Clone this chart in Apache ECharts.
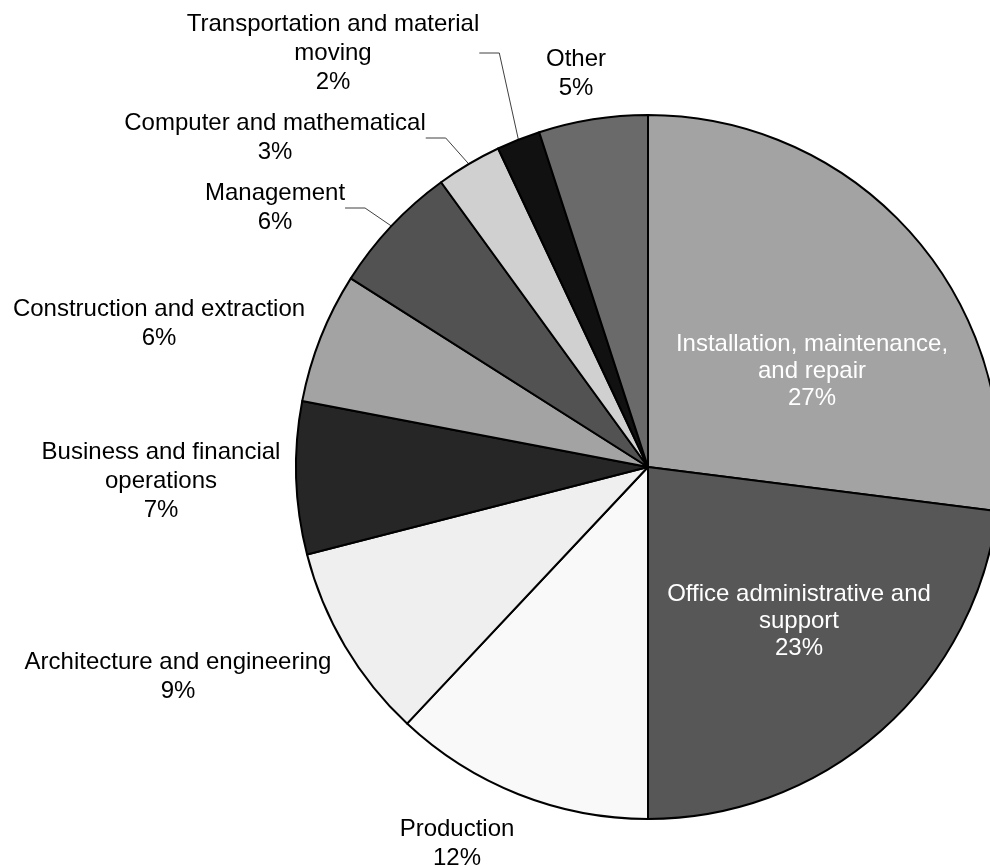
<!DOCTYPE html>
<html>
<head>
<meta charset="utf-8">
<title>Occupations</title>
<script src="https://cdn.jsdelivr.net/npm/echarts@6/dist/echarts.min.js"></script>
<style>
  html, body { margin: 0; padding: 0; background: #fff; }
  #chart { width: 990px; height: 867px; }
</style>
</head>
<body>
<div id="chart"></div>
<script>
const categories = [
  'Installation, maintenance,\nand repair',
  'Office administrative and\nsupport',
  'Production',
  'Architecture and engineering',
  'Business and financial\noperations',
  'Construction and extraction',
  'Management',
  'Computer and mathematical',
  'Transportation and material\nmoving',
  'Other'
]
const shares = [27, 23, 12, 9, 7, 6, 6, 3, 2, 5]

// slice fills, same order as categories
const fills = ['#a3a3a3', '#575757', '#f9f9f9', '#efefef', '#262626',
  '#a3a3a3', '#525252', '#d0d0d0', '#111111', '#6a6a6a']
// where each label block sits (centre)
const labelSpots = [
  [812, 371], [799, 621], [457, 844], [178, 677], [161, 481],
  [159, 324], [275, 208], [275, 138], [333, 53], [576, 74]
]
const insideIdx = [0, 1]
const guideIdx = [6, 7, 8]

const chart = echarts.init(document.getElementById('chart'), null, { renderer: 'canvas' })

chart.setOption({
  animation: false,
  backgroundColor: '#fff',
  series: [{
    type: 'pie',
    center: [648, 467],
    radius: 352,
    startAngle: 90,
    clockwise: true,
    avoidLabelOverlap: false,
    percentPrecision: 0,
    itemStyle: { borderColor: '#000', borderWidth: 2 },
    label: {
      show: true,
      formatter: '{b}\n{d}%',
      fontFamily: 'Liberation Sans, Arial, sans-serif',
      fontSize: 24,
      lineHeight: 29,
      color: '#000',
      align: 'center'
    },
    labelLine: {
      show: false,
      length: 10,
      length2: 20,
      smooth: false,
      lineStyle: { color: '#404040', width: 1 }
    },
    labelLayout: function (p) {
      const s = labelSpots[p.dataIndex]
      return { x: s[0], y: s[1], align: 'center', verticalAlign: 'middle' }
    },
    emphasis: { disabled: true },
    data: categories.map(function (name, i) {
      const inside = insideIdx.indexOf(i) >= 0
      return {
        name: name,
        value: shares[i],
        itemStyle: { color: fills[i] },
        label: inside
          ? { position: 'inside', color: '#fff', lineHeight: 27 }
          : { position: 'outside' },
        labelLine: { show: guideIdx.indexOf(i) >= 0 }
      }
    })
  }]
})
</script>
</body>
</html>
